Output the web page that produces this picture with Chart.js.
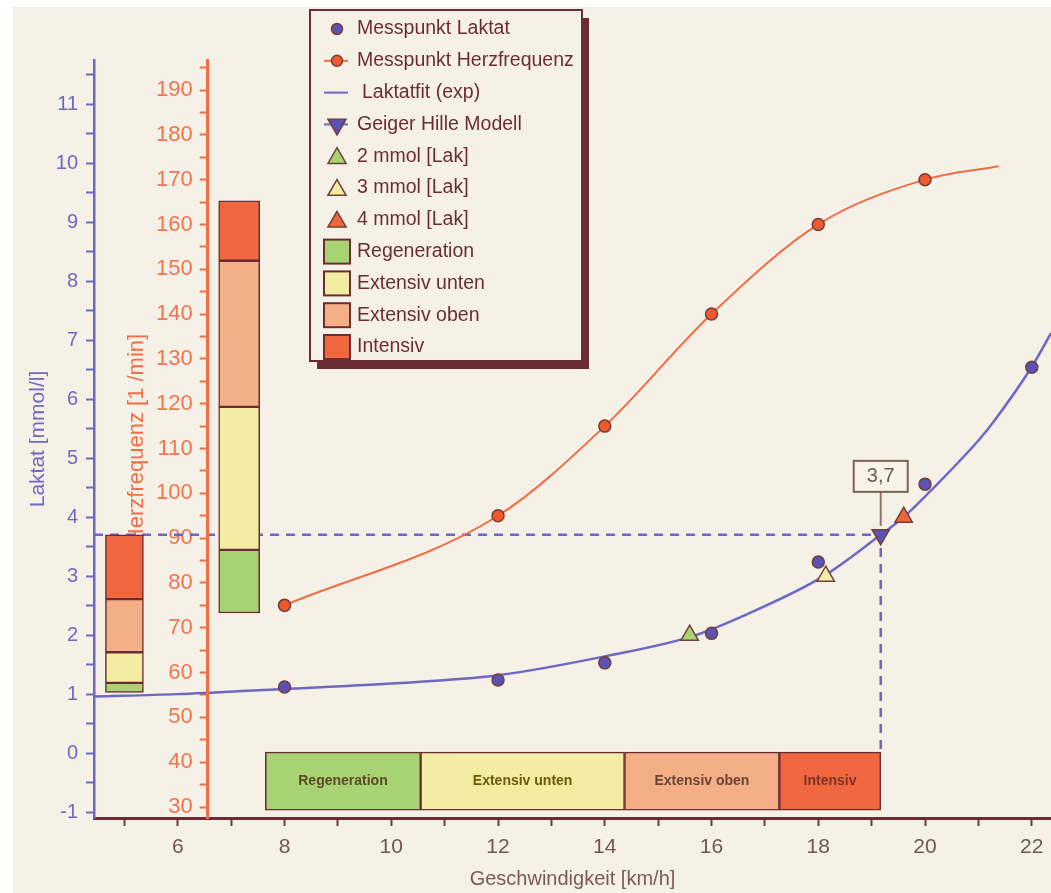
<!DOCTYPE html>
<html>
<head>
<meta charset="utf-8">
<title>Laktat / Herzfrequenz</title>
<script src="https://cdn.jsdelivr.net/npm/chart.js@4.4.1/dist/chart.umd.min.js"></script>
<style>
    html, body { margin: 0; padding: 0; background: #fff; }
    canvas { display: block; }
</style>
</head>
<body>
<canvas id="lactate-chart" width="1051" height="893"></canvas>
<script>
// DATA //

const speed = [8, 12, 14, 16, 18, 20, 22];
const lactate = [1.12, 1.24, 1.53, 2.03, 3.24, 4.56, 6.54];

const hrSpeed = [8, 12, 14, 16, 18, 20, 21.38];
const heartRate = [75, 95, 115, 140, 160, 170, 173];

const fitSpeed = [4.43, 6, 7.6, 10, 12, 14, 15.6, 16.5, 18.1, 19.17, 19.6, 20, 21, 21.27, 22, 22.36];
const fitLactate = [0.96, 1.0, 1.07, 1.18, 1.32, 1.64, 1.97, 2.29, 3.0, 3.7, 4.0, 4.35, 5.3, 5.6, 6.55, 7.12];

const ghSpeed = [19.17];
const ghLactate = [3.7];
const ghText = '3,7';

const thresholdNames = ['2 mmol [Lak]', '3 mmol [Lak]', '4 mmol [Lak]'];
const thresholdSpeed = [15.59, 18.14, 19.6];
const thresholdLactate = [2, 3, 4];

const zoneNames = ['Regeneration', 'Extensiv unten', 'Extensiv oben', 'Intensiv'];
const lactateZones = [1.03, 1.19, 1.71, 2.61, 3.7];
const hrZones = [73.3, 87.4, 119.3, 151.9, 165.3];
const speedZones = [7.64, 10.55, 14.37, 17.27, 19.17];

// COLOURS //

const blue = '#6e67c6';
const orange = '#f26d45';
const maroon = '#6b2d33';
const cream = '#f5f1e6';
const zoneColors = ['#a8d373', '#f5eca3', '#f4af87', '#f0673f'];
const zoneTextColors = ['#5d4a28', '#6b5a08', '#6b4535', '#7a3328'];
const thresholdColors = ['#a8d373', '#f5eca3', '#f0673f'];

const fontFamily = '"Liberation Sans", Arial, sans-serif';
Chart.defaults.font.family = fontFamily;

const xMin = 4.43, xMax = 22.36;
const hrAxisAt = 6.56;

const pts = (xs, ys) => xs.map((x, i) => ({ x: x, y: ys[i] }));

// DATASETS //

let datasets = [
    {
        label: 'Messpunkt Laktat',
        legend: 'point',
        data: pts(speed, lactate),
        showLine: false,
        pointRadius: 6,
        pointBackgroundColor: '#5a52b5',
        pointBorderColor: '#704038',
        pointBorderWidth: 1.5,
        yAxisID: 'y',
        order: 2
    },
    {
        label: 'Messpunkt Herzfrequenz',
        legend: 'linepoint',
        data: pts(hrSpeed, heartRate),
        borderColor: orange,
        borderWidth: 2,
        cubicInterpolationMode: 'monotone',
        pointRadius: hrSpeed.map((s, i) => i < hrSpeed.length - 1 ? 6 : 0),
        pointBackgroundColor: '#ee5a2e',
        pointBorderColor: '#704038',
        pointBorderWidth: 1.5,
        yAxisID: 'yHr',
        order: 5
    },
    {
        label: 'Laktatfit (exp)',
        legend: 'line',
        data: pts(fitSpeed, fitLactate),
        borderColor: blue,
        borderWidth: 2.5,
        cubicInterpolationMode: 'monotone',
        pointRadius: 0,
        yAxisID: 'y',
        order: 6
    },
    {
        label: 'Geiger Hille Modell',
        legend: 'linepoint',
        data: pts(ghSpeed, ghLactate),
        showLine: false,
        pointStyle: 'triangle',
        rotation: 180,
        pointRadius: 10,
        pointBackgroundColor: '#5a52b5',
        pointBorderColor: '#704038',
        pointBorderWidth: 1.5,
        borderColor: blue,
        yAxisID: 'y',
        order: 0
    }
];

thresholdNames.forEach((name, i) => {
    datasets.push({
        label: name,
        legend: 'point',
        data: [{ x: thresholdSpeed[i], y: thresholdLactate[i] }],
        showLine: false,
        pointStyle: 'triangle',
        pointRadius: 10,
        pointBackgroundColor: thresholdColors[i],
        pointBorderColor: '#704038',
        pointBorderWidth: 1.5,
        yAxisID: 'y',
        order: 1
    });
});

// dashed guide to the Geiger Hille point
datasets.push({
    label: '',
    data: [
        { x: xMin, y: ghLactate[0] },
        { x: ghSpeed[0], y: ghLactate[0] },
        { x: ghSpeed[0], y: 0.02 }
    ],
    borderColor: blue,
    borderWidth: 2.5,
    borderDash: [9, 7],
    pointRadius: 0,
    yAxisID: 'y',
    order: 11
});

// zone bars
const barBase = {
    type: 'bar',
    label: '',
    backgroundColor: zoneColors,
    borderColor: maroon,
    borderWidth: 1.5,
    borderSkipped: false,
    grouped: false,
    order: 10
};

datasets.push(Object.assign({}, barBase, {
    data: zoneNames.map((n, i) => ({ x: 5, y: [lactateZones[i], lactateZones[i + 1]] })),
    barThickness: 38,
    yAxisID: 'y'
}));

datasets.push(Object.assign({}, barBase, {
    data: zoneNames.map((n, i) => ({ x: 7.15, y: [hrZones[i], hrZones[i + 1]] })),
    barThickness: 41,
    yAxisID: 'yHr'
}));

datasets.push(Object.assign({}, barBase, {
    indexAxis: 'y',
    data: zoneNames.map((n, i) => ({ x: [speedZones[i], speedZones[i + 1]], y: -0.475 })),
    barThickness: 58,
    xAxisID: 'x',
    yAxisID: 'y'
}));

// PLUGINS //

const backdrop = {
    id: 'backdrop',
    beforeDraw(chart) {
        const ctx = chart.ctx;
        ctx.save();
        ctx.fillStyle = '#ffffff';
        ctx.fillRect(0, 0, chart.width, chart.height);
        ctx.fillStyle = cream;
        ctx.fillRect(13, 7, chart.width - 13, chart.height - 7);
        ctx.restore();
    }
};

// move the heart rate axis into the plot
const placeHrAxis = {
    id: 'placeHrAxis',
    afterLayout(chart) {
        const s = chart.scales.yHr;
        const px = chart.scales.x.getPixelForValue(hrAxisAt);
        s.right = px;
        s.left = px - 60;
        s.width = 60;
    },
    beforeDatasetsDraw(chart) {
        const ctx = chart.ctx;
        const a = chart.chartArea;
        const px = chart.scales.x.getPixelForValue(hrAxisAt);
        ctx.save();
        ctx.translate(px - 71, (a.top + a.bottom) / 2);
        ctx.rotate(-Math.PI / 2);
        ctx.fillStyle = orange;
        ctx.font = '22px ' + fontFamily;
        ctx.textAlign = 'center';
        ctx.textBaseline = 'middle';
        ctx.fillText('Herzfrequenz [1 /min]', 0, 0);
        ctx.restore();
    }
};

const annotations = {
    id: 'annotations',
    afterDatasetsDraw(chart) {
        const ctx = chart.ctx;
        ctx.save();

        // zone names in the speed bar
        const zoneMeta = chart.getDatasetMeta(chart.data.datasets.length - 1);
        ctx.font = 'bold 14px ' + fontFamily;
        ctx.textAlign = 'center';
        ctx.textBaseline = 'middle';
        zoneMeta.data.forEach((bar, i) => {
            ctx.fillStyle = zoneTextColors[i];
            ctx.fillText(zoneNames[i], (bar.x + bar.base) / 2, bar.y);
        });

        // 3,7 callout
        const gh = chart.getDatasetMeta(3).data[0];
        const bx = gh.x, by = gh.y;
        ctx.strokeStyle = '#9a7068';
        ctx.lineWidth = 2;
        ctx.beginPath();
        ctx.moveTo(bx, by - 43);
        ctx.lineTo(bx, by - 9);
        ctx.stroke();
        ctx.fillStyle = '#f8f4ea';
        ctx.fillRect(bx - 27, by - 74, 54, 31);
        ctx.strokeStyle = '#7b6253';
        ctx.strokeRect(bx - 27, by - 74, 54, 31);
        ctx.fillStyle = '#6e5a52';
        ctx.font = '20px ' + fontFamily;
        ctx.fillText(ghText, bx, by - 58);

        ctx.restore();
    }
};

const legendBox = {
    id: 'legendBox',
    afterDraw(chart) {
        const ctx = chart.ctx;
        const x0 = 310, y0 = 10, w = 272, h = 351;
        const rowH = 31.8, firstRow = 29, mx = 337, tx = 357;
        ctx.save();
        ctx.fillStyle = maroon;
        ctx.fillRect(x0 + 7, y0 + 8, w, h);
        ctx.fillStyle = cream;
        ctx.fillRect(x0, y0, w, h);
        ctx.strokeStyle = maroon;
        ctx.lineWidth = 2;
        ctx.strokeRect(x0, y0, w, h);

        ctx.font = '19.5px ' + fontFamily;
        ctx.textBaseline = 'middle';
        ctx.textAlign = 'left';

        let row = 0;
        chart.data.datasets.forEach(ds => {
            if (!ds.legend) return;
            const y = firstRow + row * rowH;
            if (ds.legend === 'line' || ds.legend === 'linepoint') {
                ctx.strokeStyle = ds.borderColor;
                ctx.lineWidth = 2;
                ctx.beginPath();
                ctx.moveTo(mx - 13, y);
                ctx.lineTo(mx + 11, y);
                ctx.stroke();
            }
            if (ds.legend === 'point' || ds.legend === 'linepoint') {
                const tri = ds.pointStyle === 'triangle';
                ctx.fillStyle = ds.pointBackgroundColor;
                ctx.strokeStyle = ds.pointBorderColor;
                ctx.lineWidth = 1.5;
                Chart.helpers.drawPoint(ctx, {
                    pointStyle: ds.pointStyle || 'circle',
                    rotation: ds.rotation || 0,
                    radius: tri ? 10.5 : 5.5,
                    borderWidth: 1.5
                }, mx, tri && !ds.rotation ? y + 2 : y);
            }
            ctx.fillStyle = maroon;
            ctx.fillText(ds.label, ds.legend === 'line' ? tx + 5 : tx, y);
            row++;
        });

        zoneNames.forEach((name, i) => {
            const y = firstRow + row * rowH;
            ctx.fillStyle = zoneColors[i];
            ctx.fillRect(mx - 13, y - 12, 26, 24);
            ctx.strokeStyle = maroon;
            ctx.lineWidth = 2;
            ctx.strokeRect(mx - 13, y - 12, 26, 24);
            ctx.fillStyle = maroon;
            ctx.fillText(name, tx, y);
            row++;
        });
        ctx.restore();
    }
};

// CHART //

const lactateCanvas = document.getElementById('lactate-chart');

let lactateChart = new Chart(lactateCanvas, {
    type: 'line',
    data: { datasets: datasets },
    options: {
        responsive: false,
        animation: false,
        layout: { autoPadding: false, padding: { top: 60, left: 0, right: 0, bottom: 0 } },
        plugins: {
            legend: { display: false },
            tooltip: { enabled: false }
        },
        scales: {
            x: {
                type: 'linear',
                position: 'bottom',
                min: xMin,
                max: xMax,
                offset: false,
                afterFit: s => { s.height = 75; s.paddingLeft = 0; s.paddingRight = 0; },
                border: { color: maroon, width: 3 },
                grid: { offset: false, drawOnChartArea: false, tickLength: 8, tickColor: '#6b3a3a', tickWidth: 2 },
                ticks: {
                    stepSize: 1,
                    includeBounds: false,
                    autoSkip: false,
                    maxRotation: 0,
                    padding: 9,
                    color: '#6f5656',
                    font: { size: 21 },
                    callback: v => (v % 2 === 0 ? v : '')
                },
                title: {
                    display: true,
                    text: 'Geschwindigkeit [km/h]',
                    color: '#7a5a5a',
                    font: { size: 20 },
                    padding: { top: 0, bottom: 2 }
                }
            },
            y: {
                type: 'linear',
                position: 'left',
                min: -1.1,
                max: 11.75,
                offset: false,
                beginAtZero: false,
                afterFit: s => { s.width = 94; },
                border: { color: blue, width: 2.5 },
                grid: { offset: false, drawOnChartArea: false, tickLength: 8, tickColor: blue, tickWidth: 2 },
                ticks: {
                    stepSize: 0.5,
                    includeBounds: false,
                    autoSkip: false,
                    padding: 8,
                    color: '#7068c4',
                    font: { size: 20 },
                    callback: v => (Number.isInteger(v) ? v : '')
                },
                title: {
                    display: true,
                    text: 'Laktat [mmol/l]',
                    color: '#7169c5',
                    font: { size: 21 },
                    padding: { top: 26, bottom: 0 }
                }
            },
            yHr: {
                type: 'linear',
                position: 'left',
                min: 27.55,
                max: 196.7,
                offset: false,
                beginAtZero: false,
                afterFit: s => { s.width = 0; s.paddingTop = 0; s.paddingBottom = 0; },
                border: { color: orange, width: 3, z: 1 },
                grid: { offset: false, drawOnChartArea: false, tickLength: 8, tickColor: orange, tickWidth: 2 },
                ticks: {
                    stepSize: 5,
                    includeBounds: false,
                    autoSkip: false,
                    padding: 7,
                    color: '#f27350',
                    font: { size: 22 },
                    callback: v => (v % 10 === 0 ? v : '')
                }
            }
        }
    },
    plugins: [backdrop, placeHrAxis, annotations, legendBox]
});
</script>
</body>
</html>
